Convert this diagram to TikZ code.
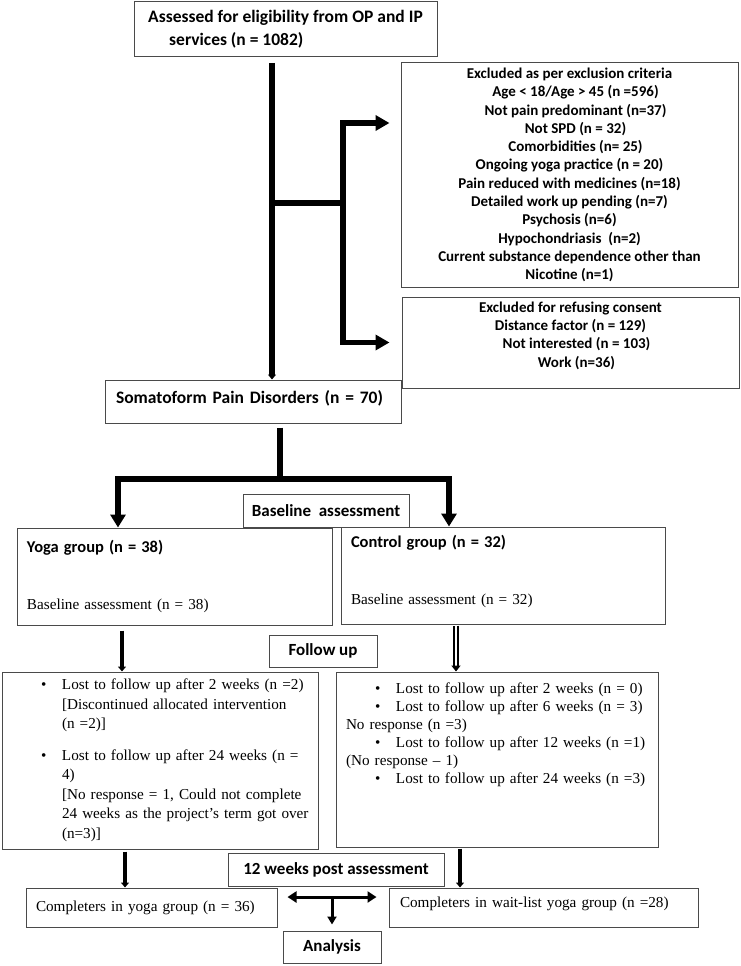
\documentclass[tikz,border=0pt]{standalone}
\usepackage{fontspec}
\setmainfont{Carlito}
\newfontfamily\serifface{Liberation Serif}
\usetikzlibrary{arrows.meta}

\definecolor{framegray}{HTML}{4A4A4A}

\newcommand\titlefont{\rmfamily\fontsize{17.5}{23}\selectfont\bfseries}
\newcommand\listfont{\rmfamily\fontsize{15}{18.3}\selectfont\bfseries}
\newcommand\groupfont{\rmfamily\fontsize{16.5}{20}\selectfont\bfseries}
\newcommand\stagefont{\rmfamily\fontsize{17}{20}\selectfont\bfseries}
\newcommand\plainfont{\serifface\fontsize{15.2}{19.5}\selectfont}
\newcommand\itemdot{\hspace*{39pt}\makebox[21pt][l]{\textbullet}}
\newcommand\itemgap{\hspace*{60pt}}

\tikzset{
    box/.style={draw=framegray, line width=1pt, inner sep=0pt},
    thickline/.style={line width=5.3pt},
    midline/.style={line width=4.7pt},
    thinline/.style={line width=3pt},
    hollow/.style={double, double distance=1.3pt, line width=2pt},
    bigtip/.style={-{Triangle[length=14pt,width=15pt]}},
    grouptip/.style={-{Triangle[length=13pt,width=15pt]}},
    smalltip/.style={-{Triangle[length=5pt,width=8pt]}},
    bothtips/.style={{Triangle[length=9pt,width=11pt]}-{Triangle[length=9pt,width=11pt]}}
}

\begin{document}
\begin{tikzpicture}[x=1pt,y=-1pt]
    \useasboundingbox (0,0) rectangle (740,966);
    % screening
    \node[box, minimum width=303pt, minimum height=55pt, inner xsep=11pt, align=left, font=\titlefont] (assess) at (285.5,29.5)
        {Assessed for eligibility from OP and IP\\\hspace*{21pt}services (n = 1082)};
    \node[box, minimum width=337pt, minimum height=224pt, align=center, font=\listfont] (excl) at (569.5,175)
        {Excluded as per exclusion criteria\\
        \hspace*{12pt}Age < 18/Age > 45 (n =596)\\
        \hspace*{12pt}Not pain predominant (n=37)\\
        \hspace*{12pt}Not SPD (n = 32)\\
        \hspace*{12pt}Comorbidities (n= 25)\\
        Ongoing yoga practice (n = 20)\\
        Pain reduced with medicines (n=18)\hspace*{66pt}\\
        Detailed work up pending (n=7)\hspace*{66pt}\\
        Psychosis (n=6)\\
        Hypochondriasis\ \ (n=2)\\
        Current substance dependence other than\\
        Nicotine (n=1)};
    \node[box, minimum width=337pt, minimum height=91pt, align=center, font=\listfont] (refuse) at (570.5,342.5)
        {Excluded for refusing consent\\
        Distance factor (n = 129)\\
        \hspace*{12pt}Not interested (n = 103)\\
        \hspace*{12pt}Work (n=36)\\[-2pt]\mbox{}};
    \node[box, minimum width=296pt, minimum height=43pt, text width=274pt, inner xsep=11pt, align=left, font=\titlefont] (soma) at (253,401.5)
        {Somatoform Pain Disorders (n = 70)\\[-14pt]\mbox{}};
    % allocation
    \node[box, minimum width=315pt, minimum height=97pt, text width=295pt, inner xsep=10pt, align=left, font=\plainfont] (yoga) at (174.5,576.5)
        {{\groupfont Yoga group (n = 38)}\\[38pt]Baseline assessment (n = 38)};
    \node[box, minimum width=324pt, minimum height=97pt, text width=304pt, inner xsep=10pt, align=left, font=\plainfont] (ctrl) at (503,575.5)
        {{\groupfont Control group (n = 32)}\\[37pt]Baseline assessment (n = 32)\\[-8pt]\mbox{}};
    \node[box, minimum width=166pt, minimum height=33pt, font=\stagefont] (baseline) at (326,510.5) {Baseline\ \ assessment};
    % follow up
    \node[box, minimum width=108pt, minimum height=32pt, font=\stagefont] (follow) at (323,651) {Follow up};
    \node[box, minimum width=316pt, minimum height=177pt, text width=316pt, align=left, font=\plainfont] (yfollow) at (160,760.5)
        {\itemdot Lost to follow up after 2 weeks (n =2)\\
        \itemgap[Discontinued allocated intervention\\
        \itemgap(n =2)]\\[12pt]
        \itemdot Lost to follow up after 24 weeks (n =\\
        \itemgap 4)\\
        \itemgap[No response = 1, Could not complete\\
        \itemgap 24 weeks as the project’s term got over\\
        \itemgap(n=3)]};
    \node[box, minimum width=322pt, minimum height=175pt, text width=322pt, align=left, font={\plainfont\fontsize{15.2}{18}\selectfont}] (cfollow) at (497,759.5)
        {\itemdot Lost to follow up after 2 weeks (n = 0)\\
        \itemdot Lost to follow up after 6 weeks (n = 3)\\
        \hspace*{10pt}No response (n =3)\\
        \itemdot Lost to follow up after 12 weeks (n =1)\\
        \hspace*{10pt}(No response – 1)\\
        \itemdot Lost to follow up after 24 weeks (n =3)\\[35pt]\mbox{}};
    % completion
    \node[box, minimum width=216pt, minimum height=33pt, font=\stagefont] (post) at (336,869.5) {12 weeks post assessment};
    \node[box, minimum width=251pt, minimum height=39pt, text width=231pt, inner xsep=10pt, align=left, font=\plainfont] (ycomp) at (151.5,907.5)
        {Completers in yoga group (n = 36)};
    \node[box, minimum width=309pt, minimum height=39pt, text width=287pt, inner xsep=11pt, align=left, font=\plainfont] (wcomp) at (543.5,907.5)
        {Completers in wait-list yoga group (n =28)\\[-9pt]\mbox{}};
    \node[box, minimum width=98pt, minimum height=32pt, font=\stagefont] (analysis) at (332,947) {Analysis};

    % connectors
    \coordinate (trunk) at (272,63);
    \coordinate (split) at (343,203);
    \coordinate (hub) at (280,479);
    \coordinate (join) at (332,897);
    \draw[thickline, smalltip] (trunk) -- (trunk |- soma.north);
    \draw[thickline] (trunk |- split) -- (split);
    \draw[thickline, bigtip] (split) |- ([xshift=-11pt,yshift=52pt]excl.west);
    \draw[thickline, bigtip] (split) |- ([xshift=-12pt]refuse.west);
    \draw[thickline] ([yshift=-4pt]soma.south -| hub) -- (hub);
    \draw[thickline, grouptip] (hub) -| ([xshift=-56.5pt]yoga.north);
    \draw[thickline, grouptip] (hub) -| ([xshift=-54pt]ctrl.north);
    \draw[midline, smalltip] ([xshift=-52.5pt,yshift=-5pt]yoga.south) -- ([xshift=-52.5pt]yoga.south |- yfollow.north);
    \draw[hollow, -{Triangle[length=6pt,width=9pt]}] ([xshift=-47pt,yshift=-1pt]ctrl.south) -- ([xshift=-47pt]ctrl.south |- cfollow.north);
    \draw[midline, smalltip] ([xshift=-35pt,yshift=-2pt]yfollow.south) -- ([xshift=-35pt]yfollow.south |- ycomp.north);
    \draw[midline, smalltip] ([xshift=-37pt,yshift=-1pt]cfollow.south) -- ([xshift=-37pt]cfollow.south |- wcomp.north);
    \draw[thinline, bothtips] ([xshift=10pt]ycomp.east |- join) -- ([xshift=-12pt]wcomp.west |- join);
    \draw[thinline, -{Triangle[length=8pt,width=9pt]}] (join) -- ([yshift=6pt]analysis.north);
\end{tikzpicture}
\end{document}
